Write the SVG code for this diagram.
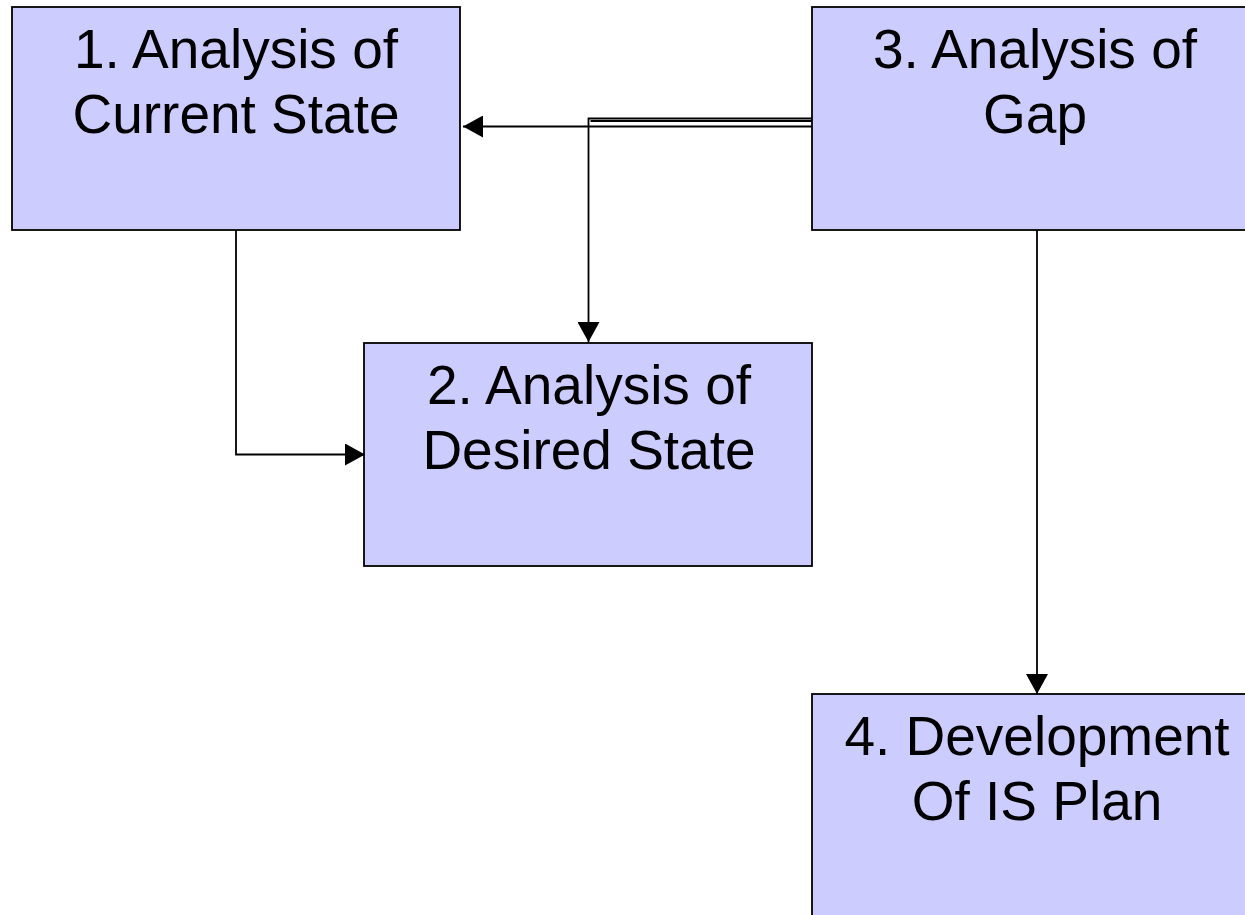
<svg xmlns="http://www.w3.org/2000/svg" width="1245" height="915" viewBox="0 0 1245 915">
  <style>
    .box { fill: #CCCCFF; stroke: #000000; stroke-width: 1.8; }
    .label { font-family: "Liberation Sans", Arial, sans-serif; font-size: 55px; fill: #000000; text-anchor: middle; }
    .wire { fill: none; stroke: #000000; stroke-width: 1.8; }
  </style>
  <defs>
    <marker id="arrow" viewBox="0 0 20 22" refX="20" refY="11" markerWidth="20" markerHeight="22" markerUnits="userSpaceOnUse" orient="auto">
      <path d="M0,0 L20,11 L0,22 Z" fill="#000000"/>
    </marker>
  </defs>
  <rect width="1245" height="915" fill="#FFFFFF"/>

  <g id="node-current-state">
    <rect class="box" x="12" y="7" width="448" height="223"/>
    <text class="label" x="236" y="68">1. Analysis of</text>
    <text class="label" x="236" y="133">Current State</text>
  </g>

  <g id="node-desired-state">
    <rect class="box" x="364" y="343" width="448" height="223"/>
    <text class="label" x="589" y="404">2. Analysis of</text>
    <text class="label" x="589" y="469">Desired State</text>
  </g>

  <g id="node-gap">
    <rect class="box" x="812" y="7" width="448" height="223"/>
    <text class="label" x="1035" y="68">3. Analysis of</text>
    <text class="label" x="1035" y="133">Gap</text>
  </g>

  <g id="node-is-plan">
    <rect class="box" x="812" y="694" width="448" height="223"/>
    <text class="label" x="1037" y="755">4. Development</text>
    <text class="label" x="1037" y="820">Of IS Plan</text>
  </g>

  <g id="connectors">
    <!-- gap -> current state -->
    <path class="wire" d="M812,126.5 H463" marker-end="url(#arrow)"/>
    <!-- gap -> desired state (doubled run) -->
    <path class="wire" d="M812,121 H590.5"/>
    <path class="wire" d="M812,118.5 H588.5 V342" marker-end="url(#arrow)"/>
    <!-- current state -> desired state -->
    <path class="wire" d="M236,230 V454.5 H365" marker-end="url(#arrow)"/>
    <!-- gap -> IS plan -->
    <path class="wire" d="M1037,230 V694" marker-end="url(#arrow)"/>
  </g>
</svg>
